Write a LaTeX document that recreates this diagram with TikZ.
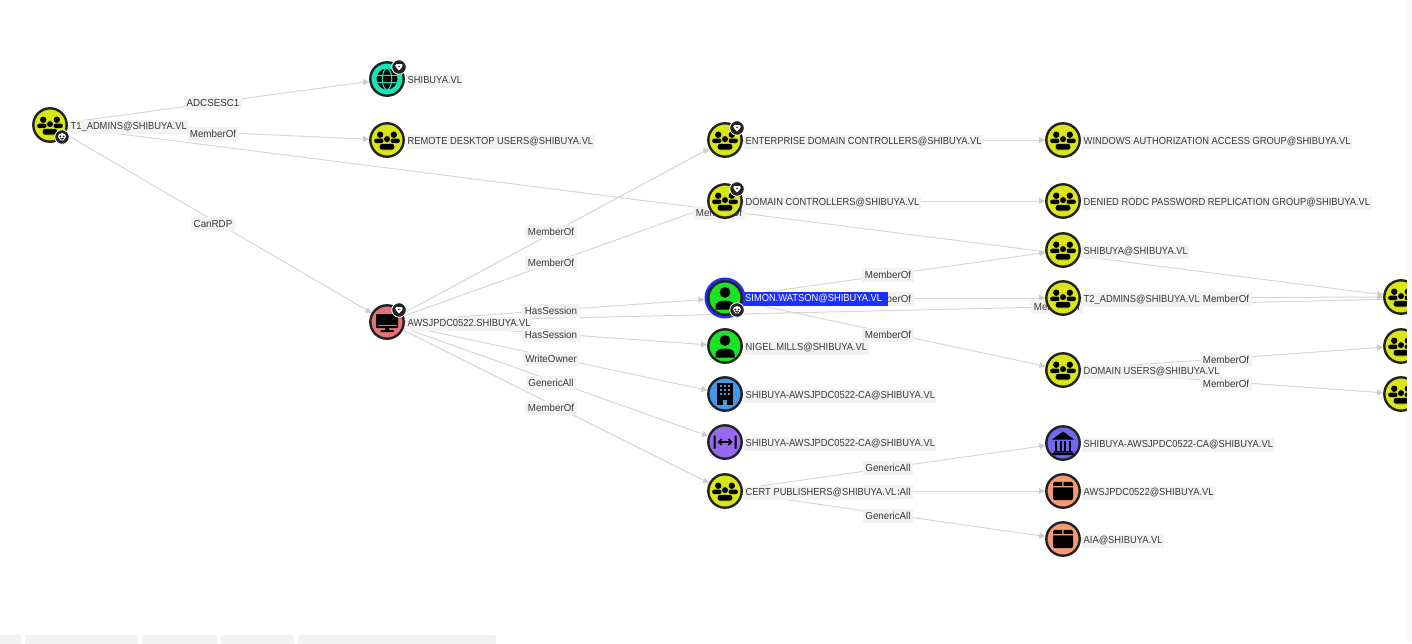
\documentclass[tikz,border=0pt]{standalone}
\usepackage{fontspec}
\setmainfont{Liberation Sans}
\newfontfamily\nlabfont[FakeStretch=0.915]{Liberation Sans}
\newfontfamily\elabfont[FakeStretch=0.96]{Liberation Sans}
\usetikzlibrary{arrows.meta,calc}
\pgfdeclarelayer{edges}\pgfdeclarelayer{elab}\pgfdeclarelayer{nlab}\pgfdeclarelayer{top}
\pgfsetlayers{edges,elab,main,nlab,top}
\definecolor{ygrp}{HTML}{DBE617}
\definecolor{ink}{HTML}{222222}
\definecolor{lab}{HTML}{F3F3F3}
\definecolor{edgec}{HTML}{D6D6D6}
\definecolor{tipc}{HTML}{CCCCCC}
\definecolor{teal1}{HTML}{17E6B9}
\definecolor{redc}{HTML}{E57373}
\definecolor{greenu}{HTML}{17E625}
\definecolor{ringb}{HTML}{1A30FF}
\definecolor{blueo}{HTML}{4696E9}
\definecolor{purp}{HTML}{9769F0}
\definecolor{bank}{HTML}{7168F0}
\definecolor{salm}{HTML}{F59A73}
\newcommand{\ent}[6]{%
  \node[entc,fill=#4] (#1) at (#2,#3) {};
  \begin{scope}\colorlet{nc}{#4}\pic at (#1) {#5};\end{scope}
  \begin{pgfonlayer}{nlab}\node[nodelab] (#1-l) at ($(#1.center)+(19,1.5)$) {#6};\end{pgfonlayer}}
\newcommand{\lnk}[5]{%
  \begin{pgfonlayer}{edges}\draw[flow] (#1) -- (#2);\end{pgfonlayer}
  \begin{pgfonlayer}{elab}\node[edgelab] (#1-#2-l) at (#3,#4) {#5};\end{pgfonlayer}}
\newcommand{\lnkn}[2]{%
  \begin{pgfonlayer}{edges}\draw[flow] (#1) -- (#2);\end{pgfonlayer}}
\newcommand{\badge}[4]{%
  \node[badgec] (#1) at ($(#2)+(12,#3)$) {};\pic at (#1) {#4};}
\tikzset{
  entc/.style={circle,draw=ink,line width=2.4pt,minimum size=33.4pt,inner sep=0pt},
  nodelab/.style={anchor=west,fill=lab,text=ink!90,font=\nlabfont\fontsize{10.2}{12}\selectfont,inner xsep=1.5pt,inner ysep=2pt,text height=8pt,text depth=2pt},
  edgelab/.style={fill=lab,text=ink!90,font=\elabfont\fontsize{10.2}{12}\selectfont,inner xsep=2.5pt,inner ysep=2pt,text height=8pt,text depth=2pt},
  flow/.style={draw=edgec,line width=1pt,-{Triangle[length=6pt,width=6pt,fill=tipc,color=tipc]}},
  badgec/.style={circle,fill=ink,draw=white,line width=0.8pt,minimum size=14.5pt,inner sep=0pt},
  grp/.pic={
    \fill[black] (-6.8,-5.3) circle[radius=3.2] (6.8,-5.3) circle[radius=3.2];
    \fill[black,rounded corners=2pt] (-12.8,3) -- (-12.8,-1.4) -- (-3.5,-1.4) -- (-3.5,3) -- cycle;
    \fill[black,rounded corners=2pt] (12.8,3) -- (12.8,-1.4) -- (3.5,-1.4) -- (3.5,3) -- cycle;
    \filldraw[black,draw=ygrp,line width=0.7pt] (0,-0.9) circle[radius=3.5];
    \filldraw[black,draw=ygrp,line width=0.7pt,rounded corners=2.4pt] (-7.8,10) -- (-7.8,3.6) -- (7.8,3.6) -- (7.8,10) -- cycle;
  },
  usr/.pic={
    \fill[black] (0,-5.6) circle[radius=5.4];
    \fill[black] (-9.5,11.5) -- (-9.5,8) .. controls (-9.5,4.2) and (-5,2.6) .. (0,2.6) .. controls (5,2.6) and (9.5,4.2) .. (9.5,8) -- (9.5,11.5) -- cycle;
  },
  cmp/.pic={
    \fill[black,rounded corners=1pt] (-11,-8) rectangle (11,6);
    \fill[nc] (-9.5,2.6) rectangle (9.5,3.4);
    \fill[black] (-2,6) rectangle (2,8.2) (-6.5,8.2) rectangle (6.5,10);
  },
  bld/.pic={
    \fill[black] (-7.7,-11) rectangle (7.7,11);
    \fill[nc] (-2.2,6) rectangle (2.2,11);
    \foreach \x in {-4,0,4}\foreach \y in {-8,-4,0}{\fill[nc] (\x-1,\y-1) rectangle (\x+1,\y+1);}
  },
  tpl/.pic={
    \fill[black] (-11.5,-6.5) rectangle (-9.5,6.5) (9.5,-6.5) rectangle (11.5,6.5);
    \draw[black,line width=1.7pt,{Straight Barb[length=3pt,width=6pt]}-{Straight Barb[length=3pt,width=6pt]}] (-7.5,0) -- (7.5,0);
  },
  bnk/.pic={
    \fill[black] (-11,-3.5) -- (0,-11.5) -- (11,-3.5) -- cycle;
    \foreach \x in {-8.2,-3.2,1.2,6.2}{\fill[black] (\x,-2.5) rectangle (\x+2,7.5);}
    \fill[black] (-9.5,8) rectangle (9.5,9.5) (-11,10) rectangle (11,12);
  },
  box/.pic={
    \fill[black,rounded corners=1.5pt] (-10,-9.2) rectangle (10,9.2);
    \fill[nc] (-11,-4.8) rectangle (11,-3.6) (-0.6,-10) rectangle (0.6,-4);
  },
  glb/.pic={
    \fill[black] (0,0) circle[radius=10.5];
    \draw[nc,line width=1pt] (0,0) ellipse[x radius=4.8,y radius=10.5] (-11,-3.6) -- (11,-3.6) (-11,3.6) -- (11,3.6);
  },
  skl/.pic={
    \fill[white] (0,-0.6) ellipse[x radius=4,y radius=3.3] (-2.2,1) rectangle (2.2,3.4);
    \fill[ink] (-1.6,-0.5) circle[radius=1.05] (1.6,-0.5) circle[radius=1.05];
  },
  gem/.pic={
    \fill[white,rounded corners=0.8pt] (-3.6,-2.8) -- (3.6,-2.8) -- (3.6,-0.5) -- (0,3.6) -- (-3.6,-0.5) -- cycle;
    \fill[ink] (-1.2,-1.2) -- (1.2,-1.2) -- (0,0.4) -- cycle;
  },
}
\begin{document}
\begin{tikzpicture}[x=1pt,y=-1pt]
\useasboundingbox (0,0) rectangle (1412,643);
% Selected-node ring
\node[circle,fill=ringb,minimum size=41pt,inner sep=0pt] (simon) at (725,298) {};
\ent{t1}{50}{125}{ygrp}{grp}{T1\_ADMINS@SHIBUYA.VL}
\ent{dom}{387}{79}{teal1}{glb}{SHIBUYA.VL}
\ent{rdu}{387}{140}{ygrp}{grp}{REMOTE DESKTOP USERS@SHIBUYA.VL}
\ent{aws}{387}{322}{redc}{cmp}{AWSJPDC0522.SHIBUYA.VL}
\ent{edc}{725}{140}{ygrp}{grp}{ENTERPRISE DOMAIN CONTROLLERS@SHIBUYA.VL}
\ent{dc}{725}{201}{ygrp}{grp}{DOMAIN CONTROLLERS@SHIBUYA.VL}
\node[entc,fill=greenu,draw=ink] (simoni) at (simon) {};
\pic at (simon) {usr};
\begin{pgfonlayer}{nlab}\node[nodelab,fill=ringb,text=white,text width=141.5pt] (simon-l) at (743.5,298.5) {SIMON.WATSON@SHIBUYA.VL};\end{pgfonlayer}
\ent{nigel}{725}{346}{greenu}{usr}{NIGEL.MILLS@SHIBUYA.VL}
\ent{caa}{725}{394}{blueo}{bld}{SHIBUYA-AWSJPDC0522-CA@SHIBUYA.VL}
\ent{cab}{725}{442}{purp}{tpl}{SHIBUYA-AWSJPDC0522-CA@SHIBUYA.VL}
\ent{cert}{725}{491}{ygrp}{grp}{CERT PUBLISHERS@SHIBUYA.VL}
\ent{waag}{1063}{140}{ygrp}{grp}{WINDOWS AUTHORIZATION ACCESS GROUP@SHIBUYA.VL}
\ent{rodc}{1063}{201}{ygrp}{grp}{DENIED RODC PASSWORD REPLICATION GROUP@SHIBUYA.VL}
\ent{shib}{1063}{250}{ygrp}{grp}{SHIBUYA@SHIBUYA.VL}
\ent{ttwo}{1063}{298}{ygrp}{grp}{T2\_ADMINS@SHIBUYA.VL}
\ent{du}{1063}{370}{ygrp}{grp}{DOMAIN USERS@SHIBUYA.VL}
\ent{root}{1063}{443}{bank}{bnk}{SHIBUYA-AWSJPDC0522-CA@SHIBUYA.VL}
\ent{awsc}{1063}{491}{salm}{box}{AWSJPDC0522@SHIBUYA.VL}
\ent{aia}{1063}{539}{salm}{box}{AIA@SHIBUYA.VL}
\node[entc,fill=ygrp] (ra) at (1401,297) {};\pic at (ra) {grp};
\node[entc,fill=ygrp] (rb) at (1401,346) {};\pic at (rb) {grp};
\node[entc,fill=ygrp] (rc) at (1401,394) {};\pic at (rc) {grp};
\coordinate (awsend) at (1400,299);
% Badges
\badge{b1}{t1}{12}{skl}
\badge{b2}{dom}{-12}{gem}
\badge{b3}{aws}{-12}{gem}
\badge{b4}{edc}{-12}{gem}
\badge{b5}{dc}{-12}{gem}
\badge{b6}{simon}{12}{skl}
% Connectors
\lnk{t1}{dom}{213}{103}{ADCSESC1}
\lnk{t1}{rdu}{213}{134}{MemberOf}
\lnk{t1}{aws}{213}{224}{CanRDP}
\lnk{t1}{ra}{719}{213}{MemberOf}
\lnk{aws}{edc}{551}{232}{MemberOf}
\lnk{aws}{dc}{551}{263}{MemberOf}
\lnk{aws}{simon}{551}{311}{HasSession}
\lnk{aws}{nigel}{551}{335}{HasSession}
\lnk{aws}{caa}{551}{359}{WriteOwner}
\lnk{aws}{cab}{551}{383}{GenericAll}
\lnk{aws}{cert}{551}{408}{MemberOf}
\lnk{aws}{awsend}{1057}{307}{MemberOf}
\lnkn{edc}{waag}
\lnkn{dc}{rodc}
\lnk{simon}{shib}{888}{275}{MemberOf}
\lnk{simon}{ttwo}{888}{299}{MemberOf}
\lnk{simon}{du}{888}{335}{MemberOf}
\lnk{ttwo}{ra}{1226}{299}{MemberOf}
\lnk{du}{rb}{1226}{360}{MemberOf}
\lnk{du}{rc}{1226}{384}{MemberOf}
\lnk{cert}{root}{888}{468}{GenericAll}
\lnk{cert}{awsc}{888}{492}{GenericAll}
\lnk{cert}{aia}{888}{516}{GenericAll}
% Window furniture
\begin{pgfonlayer}{top}
\fill[black!2] (1407,0) rectangle (1412,643);
\fill[lab,rounded corners=2pt] (-5,650) rectangle (21,635);
\fill[lab,rounded corners=2pt] (25,650) rectangle (138,635);
\fill[lab,rounded corners=2pt] (142,650) rectangle (217,635);
\fill[lab,rounded corners=2pt] (221,650) rectangle (294,635);
\fill[lab,rounded corners=2pt] (298,650) rectangle (496,635);
\end{pgfonlayer}
\end{tikzpicture}
\end{document}
